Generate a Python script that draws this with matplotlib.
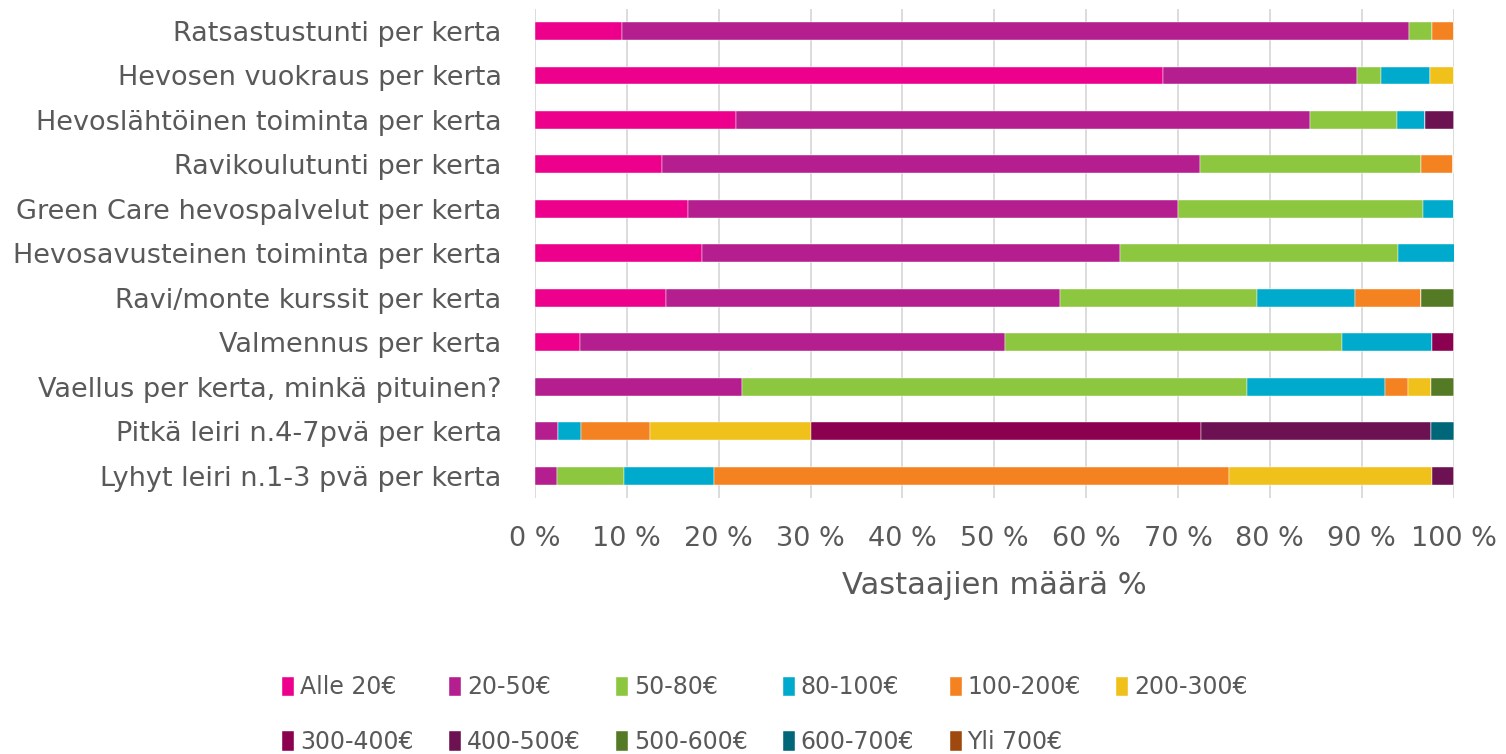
import numpy as np
import matplotlib
matplotlib.use('Agg')
import matplotlib.pyplot as plt

plt.rcParams.update({
    'font.family': 'DejaVu Sans',
})

categories = [
    'Ratsastustunti per kerta',
    'Hevosen vuokraus per kerta',
    'Hevoslähtöinen toiminta per kerta',
    'Ravikoulutunti per kerta',
    'Green Care hevospalvelut per kerta',
    'Hevosavusteinen toiminta per kerta',
    'Ravi/monte kurssit per kerta',
    'Valmennus per kerta',
    'Vaellus per kerta, minkä pituinen?',
    'Pitkä leiri n.4-7pvä per kerta',
    'Lyhyt leiri n.1-3 pvä per kerta',
]

series_names = ['Alle 20€', '20-50€', '50-80€', '80-100€', '100-200€', '200-300€',
                '300-400€', '400-500€', '500-600€', '600-700€', 'Yli 700€']

# % of respondents, one list per price band, same order as categories
alle_20  = [9.5, 68.4, 21.9, 13.8, 16.7, 18.2, 14.3, 4.9, 0, 0, 0]
e20_50   = [85.7, 21.1, 62.5, 58.6, 53.3, 45.5, 42.9, 46.3, 22.5, 2.5, 2.4]
e50_80   = [2.4, 2.6, 9.4, 24.1, 26.7, 30.3, 21.4, 36.6, 55.0, 0, 7.3]
e80_100  = [0, 5.3, 3.1, 0, 3.3, 6.1, 10.7, 9.8, 15.0, 2.5, 9.8]
e100_200 = [2.4, 0, 0, 3.4, 0, 0, 7.1, 0, 2.5, 7.5, 56.1]
e200_300 = [0, 2.6, 0, 0, 0, 0, 0, 0, 2.5, 17.5, 22.0]
e300_400 = [0, 0, 0, 0, 0, 0, 0, 2.4, 0, 42.5, 0]
e400_500 = [0, 0, 3.1, 0, 0, 0, 0, 0, 0, 25.0, 2.4]
e500_600 = [0, 0, 0, 0, 0, 0, 3.6, 0, 2.5, 0, 0]
e600_700 = [0, 0, 0, 0, 0, 0, 0, 0, 0, 2.5, 0]
yli_700  = [0, 0, 0, 0, 0, 0, 0, 0, 0, 0, 0]

series = [alle_20, e20_50, e50_80, e80_100, e100_200, e200_300,
          e300_400, e400_500, e500_600, e600_700, yli_700]

colors = ['#EC008C', '#B41E8E', '#8DC63F', '#00AACC', '#F58220', '#F0C11A',
          '#8B004F', '#6C1152', '#557A25', '#006778', '#A0490E']

TXT = '#595959'

fig = plt.figure(figsize=(15.06, 7.54), dpi=100)
ax = fig.add_axes([0.3552, 0.3395, 0.6100, 0.6490])

y = np.arange(len(categories))
left = np.zeros(len(categories))
for vals, name, c in zip(series, series_names, colors):
    vals = np.array(vals, dtype=float)
    ax.barh(y, vals, left=left, height=0.4, color=c, label=name,
            edgecolor='white', linewidth=0.3, zorder=3)
    left += vals

ax.set_xlim(0, 100)
ax.set_ylim(len(categories) - 0.5, -0.5)
ax.set_yticks(y)
ax.set_yticklabels(categories, fontsize=19.5, color=TXT)
ax.set_xticks(np.arange(0, 101, 10))
ax.set_xticklabels([f'{v} %' for v in range(0, 101, 10)], fontsize=19.5, color=TXT)
ax.tick_params(axis='y', length=0, pad=24)
ax.tick_params(axis='x', length=0, pad=20)
ax.set_xlabel('Vastaajien määrä %', fontsize=22, color=TXT, labelpad=14)

ax.grid(axis='x', color='#D9D9D9', lw=1.3, zorder=0)
for s in ax.spines.values():
    s.set_visible(False)

# legend filled row by row (matplotlib fills columns first)
handles, labels = ax.get_legend_handles_labels()
order = [0, 6, 1, 7, 2, 8, 3, 9, 4, 10, 5]
fig.legend([handles[i] for i in order], [labels[i] for i in order],
           loc='center', bbox_to_anchor=(0.508, 0.052), ncol=6, frameon=False,
           fontsize=17, labelcolor=TXT, handlelength=0.5, handleheight=0.9,
           handletextpad=0.25, columnspacing=1.5, labelspacing=1.3)

fig.savefig('out.png', dpi=100, facecolor='white')
plt.close(fig)
